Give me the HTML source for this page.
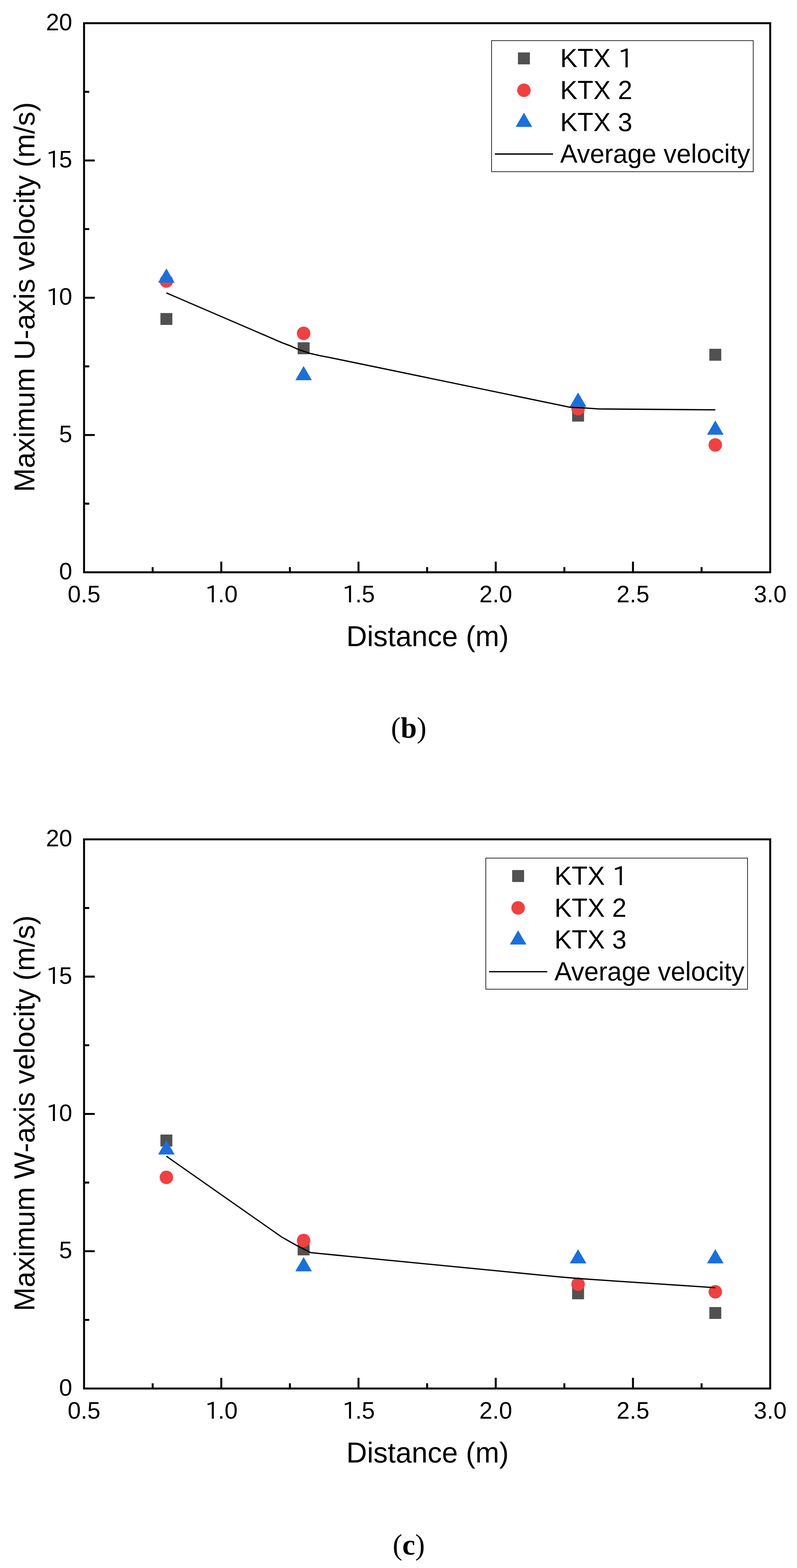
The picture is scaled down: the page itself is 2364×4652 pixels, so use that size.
<!DOCTYPE html>
<html><head><meta charset="utf-8"><title>Figure</title>
<style>
html,body{margin:0;padding:0;background:#fff;}
body{width:2364px;height:4652px;overflow:hidden;}
svg{display:block;}
.tk{font-family:"Liberation Sans", Arial, sans-serif;font-size:70px;fill:#000;}
.at{font-family:"Liberation Sans", Arial, sans-serif;font-size:85px;fill:#000;}
.lg{font-family:"Liberation Sans", Arial, sans-serif;font-size:77px;fill:#000;}
.cap{font-family:"Liberation Serif", "Times New Roman", serif;font-size:86px;fill:#000;}
</style></head>
<body>
<svg width="2364" height="4652" viewBox="0 0 2364 4652">
<rect width="2364" height="4652" fill="#fff"/>
<rect x="249.3" y="68.8" width="2035.2" height="1629.1" fill="none" stroke="#000" stroke-width="5.8" stroke-linejoin="miter"/>
<path d="M452.82 1697.9 V1682.5 M656.34 1697.9 V1666.2 M859.86 1697.9 V1682.5 M1063.38 1697.9 V1666.2 M1266.9 1697.9 V1682.5 M1470.42 1697.9 V1666.2 M1673.94 1697.9 V1682.5 M1877.46 1697.9 V1666.2 M2080.98 1697.9 V1682.5 M249.3 1494.26 H264.7 M249.3 1290.62 H281 M249.3 1086.99 H264.7 M249.3 883.35 H281 M249.3 679.71 H264.7 M249.3 476.07 H281 M249.3 272.44 H264.7" stroke="#000" stroke-width="5.8" fill="none"/>
<text x="249.3" y="1786.9" class="tk" text-anchor="middle">0.5</text>
<text x="656.34" y="1786.9" class="tk" text-anchor="middle"><tspan font-family='"IPAPGothic", "Liberation Sans", sans-serif' font-size="68.75" dy="1.31">1</tspan><tspan dx="-4.37" dy="-1.31" font-size="70">.</tspan>0</text>
<text x="1063.38" y="1786.9" class="tk" text-anchor="middle"><tspan font-family='"IPAPGothic", "Liberation Sans", sans-serif' font-size="68.75" dy="1.31">1</tspan><tspan dx="-4.37" dy="-1.31" font-size="70">.</tspan>5</text>
<text x="1470.42" y="1786.9" class="tk" text-anchor="middle">2.0</text>
<text x="1877.46" y="1786.9" class="tk" text-anchor="middle">2.5</text>
<text x="2284.5" y="1786.9" class="tk" text-anchor="middle">3.0</text>
<text x="214.3" y="1718.9" class="tk" text-anchor="end">0</text>
<text x="214.3" y="1311.62" class="tk" text-anchor="end">5</text>
<text x="214.3" y="904.35" class="tk" text-anchor="end"><tspan font-family='"IPAPGothic", "Liberation Sans", sans-serif' font-size="68.75" dy="1.31">1</tspan><tspan dx="-4.37" dy="-1.31" font-size="70">0</tspan></text>
<text x="214.3" y="497.07" class="tk" text-anchor="end"><tspan font-family='"IPAPGothic", "Liberation Sans", sans-serif' font-size="68.75" dy="1.31">1</tspan><tspan dx="-4.37" dy="-1.31" font-size="70">5</tspan></text>
<text x="214.3" y="89.8" class="tk" text-anchor="end">20</text>
<text x="1268.2" y="1916.9" class="at" text-anchor="middle">Distance (m)</text>
<text transform="translate(101.9 881.35) rotate(-90)" class="at" text-anchor="middle">Maximum U-axis velocity (m/s)</text>
<rect x="475.82" y="928.7" width="35.4" height="35.4" rx="1" fill="#515151"/>
<rect x="882.86" y="1015.6" width="35.4" height="35.4" rx="1" fill="#515151"/>
<rect x="1696.94" y="1215.3" width="35.4" height="35.4" rx="1" fill="#515151"/>
<rect x="2103.98" y="1034.8" width="35.4" height="35.4" rx="1" fill="#515151"/>
<circle cx="493.52" cy="833.8" r="20" fill="#F14040"/>
<circle cx="900.56" cy="989" r="20" fill="#F14040"/>
<circle cx="1714.64" cy="1212.4" r="20" fill="#F14040"/>
<circle cx="2121.68" cy="1320" r="20" fill="#F14040"/>
<path d="M493.52 797.67 L517.02 838.07 L470.02 838.07 Z" fill="#1A6FDF" stroke="#1A6FDF" stroke-width="1.2" stroke-linejoin="round"/>
<path d="M900.56 1087.07 L924.06 1127.47 L877.06 1127.47 Z" fill="#1A6FDF" stroke="#1A6FDF" stroke-width="1.2" stroke-linejoin="round"/>
<path d="M1714.64 1165.67 L1738.14 1206.07 L1691.14 1206.07 Z" fill="#1A6FDF" stroke="#1A6FDF" stroke-width="1.2" stroke-linejoin="round"/>
<path d="M2121.68 1248.67 L2145.18 1289.07 L2098.18 1289.07 Z" fill="#1A6FDF" stroke="#1A6FDF" stroke-width="1.2" stroke-linejoin="round"/>
<polyline points="493.52,869 837,1017 860,1025.6 882.7,1035.8 920.2,1048.7 950,1055.3 980,1061.1 1660,1201.9 1691,1208.3 1734.9,1210.4 1777.6,1213.4 1800,1213.5 2121.68,1215.9" fill="none" stroke="#000" stroke-width="3.8" stroke-linejoin="round"/>
<rect x="1458.1" y="120.5" width="776.1" height="388.9" fill="none" stroke="#000" stroke-width="1.9"/>
<rect x="1536.3" y="155.5" width="35.4" height="35.4" rx="1" fill="#515151"/>
<text x="1661.5" y="199.3" class="lg">KTX <tspan font-family='"IPAPGothic", "Liberation Sans", sans-serif' font-size="75.63" dy="1.44">1</tspan></text>
<circle cx="1554" cy="267.8" r="20" fill="#F14040"/>
<text x="1661.5" y="293.9" class="lg">KTX 2</text>
<path d="M1554 335.47 L1577.5 375.87 L1530.5 375.87 Z" fill="#1A6FDF" stroke="#1A6FDF" stroke-width="1.2" stroke-linejoin="round"/>
<text x="1661.5" y="388.5" class="lg">KTX 3</text>
<path d="M1467.8 457 H1640.4" stroke="#000" stroke-width="3.8"/>
<text x="1661.5" y="483.1" class="lg">Average velocity</text>
<text x="1212.4" y="2188.4" class="cap" text-anchor="middle">(<tspan font-weight="bold">b</tspan>)</text>
<rect x="249.3" y="2490.2" width="2035.2" height="1629.3" fill="none" stroke="#000" stroke-width="5.8" stroke-linejoin="miter"/>
<path d="M452.82 4119.5 V4104.1 M656.34 4119.5 V4087.8 M859.86 4119.5 V4104.1 M1063.38 4119.5 V4087.8 M1266.9 4119.5 V4104.1 M1470.42 4119.5 V4087.8 M1673.94 4119.5 V4104.1 M1877.46 4119.5 V4087.8 M2080.98 4119.5 V4104.1 M249.3 3915.84 H264.7 M249.3 3712.18 H281 M249.3 3508.51 H264.7 M249.3 3304.85 H281 M249.3 3101.19 H264.7 M249.3 2897.52 H281 M249.3 2693.86 H264.7" stroke="#000" stroke-width="5.8" fill="none"/>
<text x="249.3" y="4208.5" class="tk" text-anchor="middle">0.5</text>
<text x="656.34" y="4208.5" class="tk" text-anchor="middle"><tspan font-family='"IPAPGothic", "Liberation Sans", sans-serif' font-size="68.75" dy="1.31">1</tspan><tspan dx="-4.37" dy="-1.31" font-size="70">.</tspan>0</text>
<text x="1063.38" y="4208.5" class="tk" text-anchor="middle"><tspan font-family='"IPAPGothic", "Liberation Sans", sans-serif' font-size="68.75" dy="1.31">1</tspan><tspan dx="-4.37" dy="-1.31" font-size="70">.</tspan>5</text>
<text x="1470.42" y="4208.5" class="tk" text-anchor="middle">2.0</text>
<text x="1877.46" y="4208.5" class="tk" text-anchor="middle">2.5</text>
<text x="2284.5" y="4208.5" class="tk" text-anchor="middle">3.0</text>
<text x="214.3" y="4140.5" class="tk" text-anchor="end">0</text>
<text x="214.3" y="3733.18" class="tk" text-anchor="end">5</text>
<text x="214.3" y="3325.85" class="tk" text-anchor="end"><tspan font-family='"IPAPGothic", "Liberation Sans", sans-serif' font-size="68.75" dy="1.31">1</tspan><tspan dx="-4.37" dy="-1.31" font-size="70">0</tspan></text>
<text x="214.3" y="2918.52" class="tk" text-anchor="end"><tspan font-family='"IPAPGothic", "Liberation Sans", sans-serif' font-size="68.75" dy="1.31">1</tspan><tspan dx="-4.37" dy="-1.31" font-size="70">5</tspan></text>
<text x="214.3" y="2511.2" class="tk" text-anchor="end">20</text>
<text x="1268.2" y="4338.5" class="at" text-anchor="middle">Distance (m)</text>
<text transform="translate(101.9 3302.85) rotate(-90)" class="at" text-anchor="middle">Maximum W-axis velocity (m/s)</text>
<rect x="475.82" y="3366" width="35.4" height="35.4" rx="1" fill="#515151"/>
<rect x="882.86" y="3689.1" width="35.4" height="35.4" rx="1" fill="#515151"/>
<rect x="1696.94" y="3819.3" width="35.4" height="35.4" rx="1" fill="#515151"/>
<rect x="2103.98" y="3877.7" width="35.4" height="35.4" rx="1" fill="#515151"/>
<circle cx="493.52" cy="3493.1" r="20" fill="#F14040"/>
<circle cx="900.56" cy="3680.3" r="20" fill="#F14040"/>
<circle cx="1714.64" cy="3810" r="20" fill="#F14040"/>
<circle cx="2121.68" cy="3832.6" r="20" fill="#F14040"/>
<path d="M493.52 3384.17 L517.02 3424.57 L470.02 3424.57 Z" fill="#1A6FDF" stroke="#1A6FDF" stroke-width="1.2" stroke-linejoin="round"/>
<path d="M900.56 3730.77 L924.06 3771.17 L877.06 3771.17 Z" fill="#1A6FDF" stroke="#1A6FDF" stroke-width="1.2" stroke-linejoin="round"/>
<path d="M1714.64 3707.27 L1738.14 3747.67 L1691.14 3747.67 Z" fill="#1A6FDF" stroke="#1A6FDF" stroke-width="1.2" stroke-linejoin="round"/>
<path d="M2121.68 3707.27 L2145.18 3747.67 L2098.18 3747.67 Z" fill="#1A6FDF" stroke="#1A6FDF" stroke-width="1.2" stroke-linejoin="round"/>
<polyline points="493.52,3430.3 835.1,3669.8 882.5,3696.5 921.5,3716.4 1000,3724 1600,3782.7 1660,3788.4 1713.8,3793 1820,3800.3 2121.68,3820.3" fill="none" stroke="#000" stroke-width="3.8" stroke-linejoin="round"/>
<rect x="1441" y="2545.8" width="776.2" height="389" fill="none" stroke="#000" stroke-width="1.9"/>
<rect x="1519.1" y="2581.3" width="35.4" height="35.4" rx="1" fill="#515151"/>
<text x="1644.4" y="2625.1" class="lg">KTX <tspan font-family='"IPAPGothic", "Liberation Sans", sans-serif' font-size="75.63" dy="1.44">1</tspan></text>
<circle cx="1536.8" cy="2693.6" r="20" fill="#F14040"/>
<text x="1644.4" y="2719.7" class="lg">KTX 2</text>
<path d="M1536.8 2761.27 L1560.3 2801.67 L1513.3 2801.67 Z" fill="#1A6FDF" stroke="#1A6FDF" stroke-width="1.2" stroke-linejoin="round"/>
<text x="1644.4" y="2814.3" class="lg">KTX 3</text>
<path d="M1450.7 2882.8 H1623.3" stroke="#000" stroke-width="3.8"/>
<text x="1644.4" y="2908.9" class="lg">Average velocity</text>
<text x="1212.4" y="4611.5" class="cap" text-anchor="middle">(<tspan font-weight="bold">c</tspan>)</text>
</svg>
</body></html>
